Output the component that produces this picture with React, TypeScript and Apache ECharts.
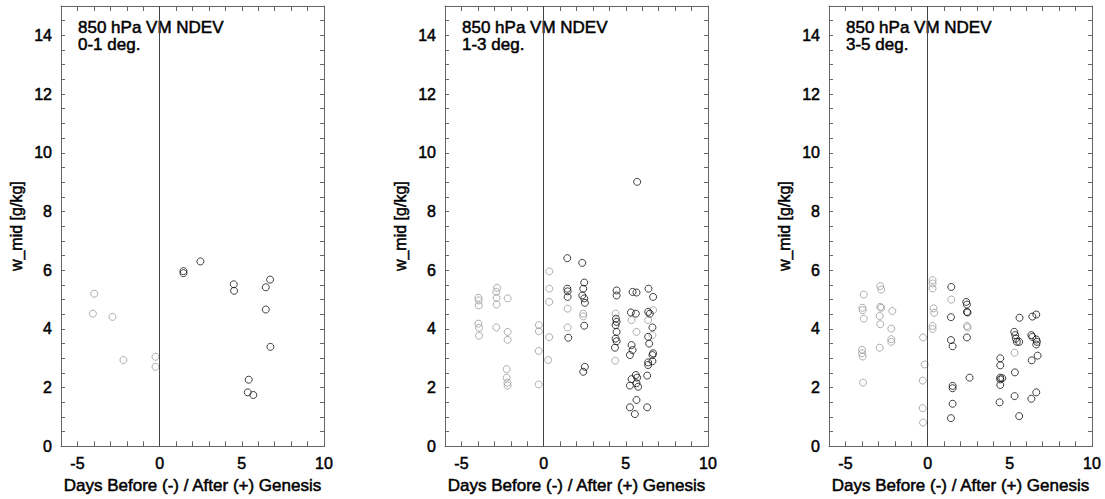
import React, { useEffect, useRef } from "react";
import * as echarts from "echarts";

// ---------- data ----------
const PANEL_LABELS = ["0-1 deg.", "1-3 deg.", "3-5 deg."];
const TITLE = "850 hPa VM NDEV";
const X_NAME = "Days Before (-) / After (+) Genesis";
const Y_NAME = "w_mid [g/kg]";
const GENESIS_DAY = 0;

// panel 1 (0-1 deg.)
const p1Grey: number[][] = [
  [-3.98, 5.2], [-4.06, 4.52], [-2.87, 4.41], [-2.2, 2.94], [-0.25, 3.05], [-0.25, 2.71],
];
const p1Black: number[][] = [
  [1.45, 5.97], [1.45, 5.9], [2.48, 6.3], [4.51, 5.52], [4.53, 5.3], [6.72, 5.68],
  [6.46, 5.42], [6.46, 4.66], [6.74, 3.39], [5.42, 2.27], [5.36, 1.84], [5.7, 1.75],
];

// panel 2 (1-3 deg.)
const p2Grey: number[][] = [
  [-3.97, 5.06], [-3.95, 4.97], [-3.95, 4.8], [-3.97, 4.18], [-3.93, 4.04], [-3.93, 3.77],
  [-2.83, 5.4], [-2.88, 5.26], [-2.86, 5.06], [-2.86, 4.83], [-2.88, 4.05],
  [-2.19, 5.04], [-2.19, 3.9], [-2.19, 3.63], [-2.25, 2.63], [-2.25, 2.34], [-2.2, 2.17], [-2.19, 2.07],
  [-0.29, 4.13], [-0.29, 3.92], [-0.3, 3.25], [-0.3, 2.11],
  [0.34, 5.96], [0.34, 5.37], [0.34, 4.92], [0.34, 3.72], [0.28, 2.94],
  [1.46, 4.69], [1.46, 4.05], [2.41, 4.52], [2.41, 4.43], [4.38, 4.52], [4.35, 2.92],
  [5.35, 4.3], [5.65, 3.9], [6.66, 4.64], [6.36, 4.3], [6.62, 3.79],
];
const p2Black: number[][] = [
  [1.44, 6.41], [1.44, 5.37], [1.46, 5.28], [1.46, 5.09], [1.5, 3.7],
  [2.35, 6.25], [2.47, 5.58], [2.41, 5.37], [2.35, 5.14], [2.47, 5.04], [2.51, 4.89],
  [2.47, 4.11], [2.51, 2.71], [2.41, 2.54],
  [4.44, 5.31], [4.44, 5.14], [4.4, 4.35], [4.44, 4.24], [4.38, 4.13], [4.44, 3.9],
  [4.38, 3.67], [4.44, 3.58], [4.34, 3.36],
  [5.69, 9.01], [5.41, 5.26], [5.65, 5.24], [5.31, 4.56], [5.61, 4.52], [5.35, 3.45],
  [5.41, 3.28], [5.25, 3.11], [5.61, 2.43], [5.35, 2.29], [5.69, 2.34], [5.65, 2.15],
  [5.25, 2.07], [5.75, 2.03], [5.65, 1.58], [5.25, 1.33], [5.55, 1.1],
  [6.38, 5.37], [6.66, 5.09], [6.36, 4.58], [6.46, 4.52], [6.62, 4.05], [6.36, 3.73],
  [6.42, 3.5], [6.66, 3.17], [6.62, 3.11], [6.36, 2.86], [6.36, 2.77], [6.62, 2.9],
  [6.3, 2.41], [6.3, 1.33],
];

// panel 3 (3-5 deg.)
const p3Grey: number[][] = [
  [-3.89, 5.17], [-3.97, 4.72], [-3.95, 4.64], [-3.89, 4.35], [-3.99, 3.29], [-3.99, 3.17],
  [-3.95, 3.06], [-3.93, 2.17],
  [-2.88, 5.46], [-2.82, 5.34], [-2.88, 4.75], [-2.82, 4.72], [-2.92, 4.44], [-2.88, 4.16],
  [-2.92, 3.36],
  [-2.15, 4.61], [-2.21, 4.01], [-2.21, 3.65], [-2.21, 3.56],
  [-0.28, 3.71], [-0.18, 2.79], [-0.3, 2.24], [-0.3, 1.3], [-0.28, 0.81],
  [0.3, 5.66], [0.3, 5.55], [0.3, 5.38], [0.36, 4.7], [0.4, 4.55], [0.3, 4.1], [0.3, 4.0],
  [1.44, 5.0], [2.39, 4.1], [2.43, 4.05], [5.29, 3.19],
];
const p3Black: number[][] = [
  [1.44, 5.43], [1.42, 4.4], [1.42, 3.62], [1.52, 3.41], [1.52, 2.06], [1.52, 1.98],
  [1.52, 1.45], [1.42, 0.96],
  [2.35, 4.92], [2.39, 4.83], [2.39, 4.58], [2.43, 4.56], [2.39, 3.71], [2.55, 2.34],
  [4.42, 3.0], [4.42, 2.76], [4.42, 2.34], [4.54, 2.32], [4.42, 2.28], [4.42, 2.09], [4.38, 1.5],
  [5.27, 3.9], [5.33, 3.79], [5.37, 3.67], [5.43, 3.56], [5.57, 3.56], [5.31, 2.52],
  [5.29, 1.71], [5.59, 4.38], [5.57, 1.03],
  [6.37, 4.42], [6.61, 4.49], [6.31, 3.79], [6.37, 3.73], [6.61, 3.64], [6.65, 3.56],
  [6.61, 3.47], [6.69, 3.09], [6.33, 2.93], [6.61, 1.84], [6.31, 1.62],
];

const GREY_SETS = [p1Grey, p2Grey, p3Grey];
const BLACK_SETS = [p1Black, p2Black, p3Black];

// ---------- layout ----------
const GRID_LEFTS = [61, 445, 829];
const GRID_TOP = 6;
const GRID_W = 263;
const GRID_H = 442;
const FONT = "'Liberation Sans', Arial, Helvetica, sans-serif";
const AXIS_COLOR = "#666";
const TEXT_BOLDEN = { textBorderColor: "#000", textBorderWidth: 0.5 };

export default function App() {
  const ref = useRef<HTMLDivElement>(null);

  useEffect(() => {
    if (!ref.current) return;
    const chart = echarts.init(ref.current, undefined, { renderer: "svg" });

    const grids: any[] = [];
    const xAxes: any[] = [];
    const yAxes: any[] = [];
    const series: any[] = [];
    const graphics: any[] = [];

    const tickCommon = {
      show: true,
      inside: true,
      length: 4,
      lineStyle: { color: AXIS_COLOR, width: 1 },
    };

    GRID_LEFTS.forEach((left, i) => {
      grids.push({ left, top: GRID_TOP, width: GRID_W, height: GRID_H, containLabel: false });

      xAxes.push({
        type: "value",
        gridIndex: i,
        position: "bottom",
        min: -6,
        max: 10,
        interval: 1,
        axisLine: { show: true, onZero: false, lineStyle: { color: AXIS_COLOR, width: 1 } },
        axisTick: { ...tickCommon, length: 5 },
        splitLine: { show: false },
        axisLabel: {
          show: true,
          fontSize: 16,
          fontFamily: FONT,
          color: "#000",
          margin: 9,
          showMinLabel: true,
          showMaxLabel: true,
          ...TEXT_BOLDEN,
          formatter: (v: number) => (v % 5 === 0 ? String(v) : ""),
        },
        name: X_NAME,
        nameLocation: "middle",
        nameGap: 21,
        nameTextStyle: { fontSize: 17, fontFamily: FONT, color: "#000", ...TEXT_BOLDEN },
      });
      xAxes.push({
        type: "value",
        gridIndex: i,
        position: "top",
        min: -6,
        max: 10,
        interval: 1,
        axisLine: { show: true, onZero: false, lineStyle: { color: AXIS_COLOR, width: 1 } },
        axisTick: { ...tickCommon, length: 5 },
        splitLine: { show: false },
        axisLabel: { show: false },
      });

      yAxes.push({
        type: "value",
        gridIndex: i,
        position: "left",
        min: 0,
        max: 15,
        interval: 0.5,
        axisLine: { show: true, onZero: false, lineStyle: { color: AXIS_COLOR, width: 1 } },
        axisTick: { ...tickCommon },
        splitLine: { show: false },
        axisLabel: {
          show: true,
          fontSize: 16,
          fontFamily: FONT,
          color: "#000",
          margin: 9,
          ...TEXT_BOLDEN,
          formatter: (v: number) => (Number.isInteger(v) && v % 2 === 0 ? String(v) : ""),
        },
        name: Y_NAME,
        nameLocation: "middle",
        nameRotate: 90,
        nameGap: 37,
        nameTextStyle: { fontSize: 16, fontFamily: FONT, color: "#000", ...TEXT_BOLDEN },
      });
      yAxes.push({
        type: "value",
        gridIndex: i,
        position: "right",
        min: 0,
        max: 15,
        interval: 0.5,
        axisLine: { show: true, onZero: false, lineStyle: { color: AXIS_COLOR, width: 1 } },
        axisTick: { ...tickCommon },
        splitLine: { show: false },
        axisLabel: { show: false },
      });

      series.push({
        type: "scatter",
        xAxisIndex: i * 2,
        yAxisIndex: i * 2,
        data: GREY_SETS[i],
        symbol: "circle",
        symbolSize: 7,
        itemStyle: { color: "rgba(0,0,0,0)", borderColor: "#9a9a9a", borderWidth: 1 },
        silent: true,
      });
      series.push({
        type: "scatter",
        xAxisIndex: i * 2,
        yAxisIndex: i * 2,
        data: BLACK_SETS[i],
        symbol: "circle",
        symbolSize: 7,
        itemStyle: { color: "rgba(0,0,0,0)", borderColor: "#111", borderWidth: 1 },
        silent: true,
        markLine: {
          silent: true,
          symbol: "none",
          label: { show: false },
          lineStyle: { color: "#444", width: 1, type: "solid" },
          data: [{ xAxis: GENESIS_DAY }],
        },
      });

      graphics.push({
        type: "text",
        x: left + 17,
        y: 18.5,
        style: {
          text: TITLE,
          fontSize: 17,
          lineHeight: 17,
          fontFamily: FONT,
          fill: "#000",
          stroke: "#000",
          lineWidth: 0.5,
          verticalAlign: "top",
          align: "left",
        },
      });
      graphics.push({
        type: "text",
        x: left + 17,
        y: 35.5,
        style: {
          text: PANEL_LABELS[i],
          fontSize: 17,
          lineHeight: 17,
          fontFamily: FONT,
          fill: "#000",
          stroke: "#000",
          lineWidth: 0.5,
          verticalAlign: "top",
          align: "left",
        },
      });
    });

    chart.setOption({
      animation: false,
      backgroundColor: "#fff",
      grid: grids,
      xAxis: xAxes,
      yAxis: yAxes,
      series,
      graphic: graphics,
    });

    return () => chart.dispose();
  }, []);

  return (
    <div
      ref={ref}
      style={{ position: "fixed", left: 0, top: 0, width: 1105, height: 499, background: "#fff" }}
    />
  );
}
